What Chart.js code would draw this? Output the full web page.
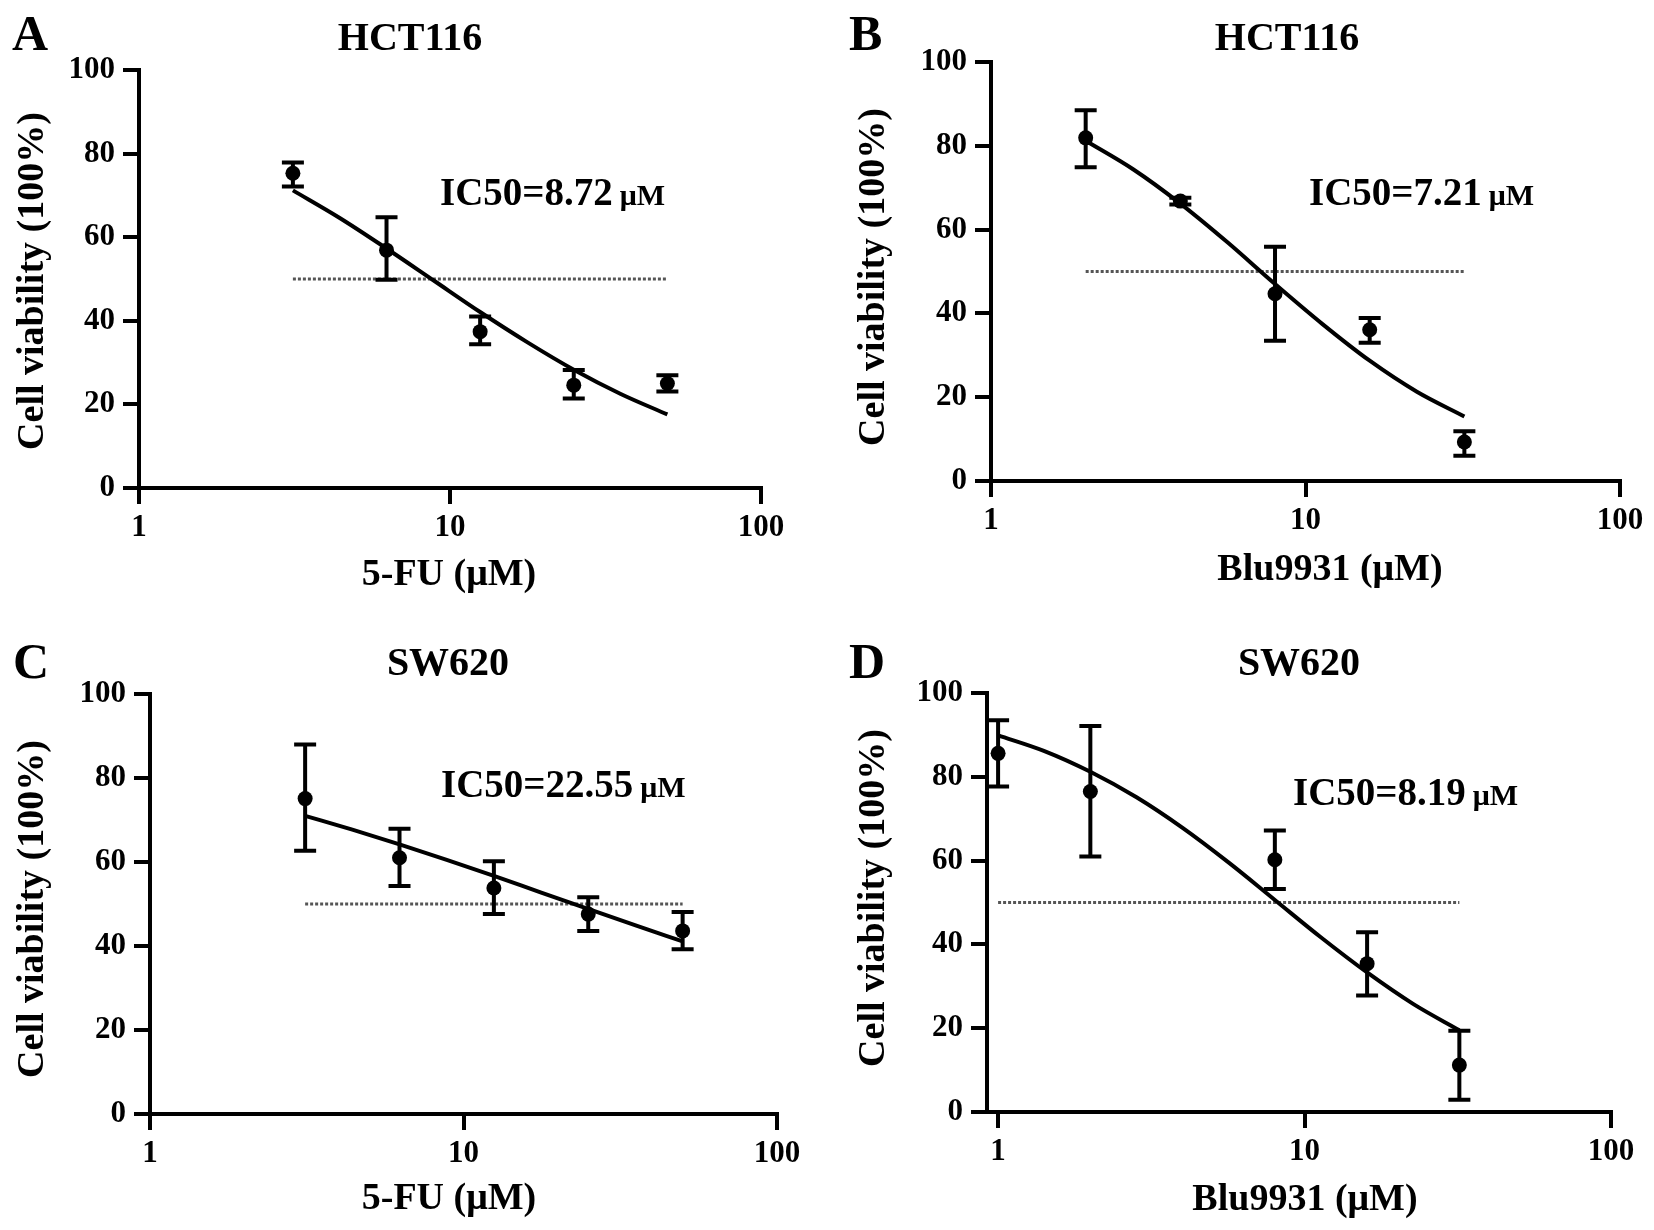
<!DOCTYPE html>
<html>
<head>
<meta charset="utf-8">
<script src="https://cdn.jsdelivr.net/npm/chart.js@4.4.1/dist/chart.umd.min.js"></script>
<style>
    body { margin: 0; background: #fff; }
    #wrap { position: relative; width: 1654px; height: 1230px; background: #fff; }
    #wrap canvas { position: absolute; }
</style>
</head>
<body>
<div id="wrap">
    <canvas id="chartA" width="827" height="615" style="left:0;top:0;width:827px;height:615px"></canvas>
    <canvas id="chartB" width="827" height="615" style="left:827px;top:0;width:827px;height:615px"></canvas>
    <canvas id="chartC" width="827" height="615" style="left:0;top:615px;width:827px;height:615px"></canvas>
    <canvas id="chartD" width="827" height="615" style="left:827px;top:615px;width:827px;height:615px"></canvas>
</div>
<script>
// doses (µM)
var doseFU = [3.125, 6.25, 12.5, 25, 50];
var doseBluB = [2, 4, 8, 16, 32];
var doseBluD = [1, 2, 8, 16, 32];

// A - HCT116, 5-FU
var viabA = [75.3, 56.9, 37.4, 24.6, 25.0];
var lowA = [72.1, 49.8, 34.4, 21.4, 23.1];
var highA = [77.9, 64.8, 41.0, 28.2, 27.0];
var fitXA = [3.125, 4.42, 6.25, 8.84, 12.5, 17.7, 25, 35.4, 50];
var fitYA = [71.2, 64.6, 57.3, 49.7, 42.1, 34.9, 28.3, 22.5, 17.6];

// B - HCT116, Blu9931
var viabB = [81.9, 66.8, 44.7, 36.1, 9.3];
var lowB = [74.9, 66.0, 33.5, 33.0, 6.0];
var highB = [88.5, 67.6, 55.9, 38.9, 11.9];
var fitXB = [2, 2.83, 4, 5.66, 8, 11.3, 16, 22.6, 32];
var fitYB = [81.2, 74.4, 66.2, 56.9, 47.0, 37.5, 28.7, 21.3, 15.4];

// C - SW620, 5-FU
var viabC = [75.1, 61.0, 53.8, 47.6, 43.6];
var lowC = [62.7, 54.3, 47.6, 43.6, 39.2];
var highC = [88.0, 67.9, 60.2, 51.6, 48.1];
var fitXC = [3.125, 4.42, 6.25, 8.84, 12.5, 17.7, 25, 35.4, 50];
var fitYC = [71.0, 67.7, 64.2, 60.5, 56.7, 52.7, 48.8, 44.9, 41.1];

// D - SW620, Blu9931
var viabD = [85.6, 76.5, 60.2, 35.4, 11.2];
var lowD = [77.7, 61.0, 53.2, 27.8, 2.9];
var highD = [93.5, 92.1, 67.2, 42.9, 19.4];
var fitXD = [1, 1.41, 2, 2.83, 4, 5.66, 8, 11.3, 16, 22.6, 32];
var fitYD = [89.9, 86.2, 81.2, 75.1, 67.8, 59.5, 50.6, 41.7, 33.3, 25.8, 19.5];

var xTickValues = [1, 10, 100];
var yTickValues = [0, 20, 40, 60, 80, 100];
var halfLine = 50;

var serif = '"Liberation Serif", "Times New Roman", serif';
Chart.defaults.font.family = serif;
Chart.defaults.color = '#000';

function toPoints(xs, ys) {
    return xs.map(function (x, i) { return { x: x, y: ys[i] }; });
}

// error bars + panel texts
var panelDecor = {
    id: 'panelDecor',
    afterDatasetsDraw: function (chart, args, opts) {
        var ctx = chart.ctx;
        var xs = chart.scales.x, ys = chart.scales.y;
        ctx.save();
        ctx.strokeStyle = '#000';
        ctx.lineWidth = 4;
        for (var i = 0; i < opts.dose.length; i++) {
            var px = xs.getPixelForValue(opts.dose[i]);
            var yl = ys.getPixelForValue(opts.low[i]);
            var yh = ys.getPixelForValue(opts.high[i]);
            ctx.beginPath();
            ctx.moveTo(px, yl); ctx.lineTo(px, yh);
            ctx.moveTo(px - 11, yl); ctx.lineTo(px + 11, yl);
            ctx.moveTo(px - 11, yh); ctx.lineTo(px + 11, yh);
            ctx.stroke();
        }
        ctx.restore();
    },
    afterDraw: function (chart, args, opts) {
        var ctx = chart.ctx;
        ctx.save();
        ctx.fillStyle = '#000';
        ctx.textBaseline = 'alphabetic';

        ctx.font = 'bold 50px ' + serif;
        ctx.textAlign = 'left';
        ctx.fillText(opts.letter.text, opts.letter.x, opts.letter.y);

        ctx.font = 'bold 40px ' + serif;
        ctx.textAlign = 'center';
        ctx.fillText(opts.title.text, opts.title.x, opts.title.y);

        ctx.font = 'bold 38px ' + serif;
        ctx.fillText(opts.xTitle.text, opts.xTitle.x, opts.xTitle.y);

        ctx.save();
        ctx.translate(opts.yTitle.x, opts.yTitle.y);
        ctx.rotate(-Math.PI / 2);
        ctx.fillText('Cell viability (100%)', 0, 0);
        ctx.restore();

        ctx.textAlign = 'left';
        ctx.font = 'bold 39px ' + serif;
        ctx.fillText(opts.ic50.text, opts.ic50.x, opts.ic50.y);
        var w = ctx.measureText(opts.ic50.text).width;
        ctx.font = 'bold 30px ' + serif;
        ctx.fillText('\u03bcM', opts.ic50.x + w + 7, opts.ic50.y);
        ctx.restore();
    }
};

function makePanel(id, p) {
    var area = p.area;
    var canvas = document.getElementById(id);
    return new Chart(canvas, {
        type: 'scatter',
        data: {
            datasets: [{
                data: toPoints(p.dose, p.viab),
                pointRadius: 7.5,
                pointBackgroundColor: '#000',
                pointBorderWidth: 0,
                showLine: false
            }, {
                data: toPoints(p.fitX, p.fitY),
                showLine: true,
                borderColor: '#000',
                borderWidth: 4,
                pointRadius: 0,
                cubicInterpolationMode: 'monotone'
            }, {
                data: [{ x: p.dotX[0], y: halfLine }, { x: p.dotX[1], y: halfLine }],
                showLine: true,
                borderColor: '#555',
                borderWidth: 3,
                borderDash: [3, 2],
                pointRadius: 0
            }]
        },
        options: {
            responsive: false,
            animation: false,
            devicePixelRatio: 1,
            events: [],
            layout: {
                padding: { left: 0, top: area.top, right: 827 - area.right, bottom: 0 }
            },
            plugins: {
                legend: { display: false },
                tooltip: { enabled: false },
                panelDecor: p.texts
            },
            scales: {
                x: {
                    type: 'logarithmic',
                    min: p.xMin,
                    max: 100,
                    afterBuildTicks: function (scale) {
                        scale.ticks = xTickValues.map(function (v) { return { value: v }; });
                    },
                    afterFit: function (scale) { scale.height = 615 - area.bottom; },
                    ticks: {
                        autoSkip: false,
                        maxRotation: 0,
                        padding: 5,
                        font: { size: 31, weight: 'bold' },
                        callback: function (v) { return String(v); }
                    },
                    grid: { display: true, drawOnChartArea: false, drawTicks: true, tickLength: 16, color: '#000', lineWidth: 4 },
                    border: { display: true, color: '#000', width: 4 }
                },
                y: {
                    type: 'linear',
                    min: 0,
                    max: 100,
                    afterBuildTicks: function (scale) {
                        scale.ticks = yTickValues.map(function (v) { return { value: v }; });
                    },
                    afterFit: function (scale) { scale.width = area.left; },
                    ticks: {
                        padding: 8,
                        font: { size: 31, weight: 'bold' }
                    },
                    grid: { display: true, drawOnChartArea: false, drawTicks: true, tickLength: 16, color: '#000', lineWidth: 4 },
                    border: { display: true, color: '#000', width: 4 }
                }
            }
        },
        plugins: [panelDecor]
    });
}

makePanel('chartA', {
    area: { left: 139, right: 761, top: 70, bottom: 488 },
    xMin: 1,
    dose: doseFU, viab: viabA, fitX: fitXA, fitY: fitYA, dotX: [3.125, 50],
    texts: {
        dose: doseFU, low: lowA, high: highA,
        letter: { text: 'A', x: 12, y: 50 },
        title: { text: 'HCT116', x: 410, y: 50 },
        ic50: { text: 'IC50=8.72', x: 440, y: 205 },
        xTitle: { text: '5-FU (\u03bcM)', x: 449, y: 585 },
        yTitle: { x: 43, y: 281 }
    }
});

makePanel('chartB', {
    area: { left: 164, right: 793, top: 62, bottom: 481 },
    xMin: 1,
    dose: doseBluB, viab: viabB, fitX: fitXB, fitY: fitYB, dotX: [2, 32],
    texts: {
        dose: doseBluB, low: lowB, high: highB,
        letter: { text: 'B', x: 22, y: 50 },
        title: { text: 'HCT116', x: 460, y: 50 },
        ic50: { text: 'IC50=7.21', x: 482, y: 205 },
        xTitle: { text: 'Blu9931 (\u03bcM)', x: 503, y: 580 },
        yTitle: { x: 57, y: 277 }
    }
});

makePanel('chartC', {
    area: { left: 150, right: 777, top: 79, bottom: 499 },
    xMin: 1,
    dose: doseFU, viab: viabC, fitX: fitXC, fitY: fitYC, dotX: [3.125, 50],
    texts: {
        dose: doseFU, low: lowC, high: highC,
        letter: { text: 'C', x: 13, y: 63 },
        title: { text: 'SW620', x: 448, y: 60 },
        ic50: { text: 'IC50=22.55', x: 441, y: 182 },
        xTitle: { text: '5-FU (\u03bcM)', x: 449, y: 594 },
        yTitle: { x: 43, y: 294 }
    }
});

makePanel('chartD', {
    area: { left: 160, right: 784, top: 78, bottom: 497 },
    xMin: 0.92,
    dose: doseBluD, viab: viabD, fitX: fitXD, fitY: fitYD, dotX: [1, 32],
    texts: {
        dose: doseBluD, low: lowD, high: highD,
        letter: { text: 'D', x: 22, y: 63 },
        title: { text: 'SW620', x: 472, y: 60 },
        ic50: { text: 'IC50=8.19', x: 466, y: 190 },
        xTitle: { text: 'Blu9931 (\u03bcM)', x: 478, y: 595 },
        yTitle: { x: 57, y: 283 }
    }
});
</script>
</body>
</html>
